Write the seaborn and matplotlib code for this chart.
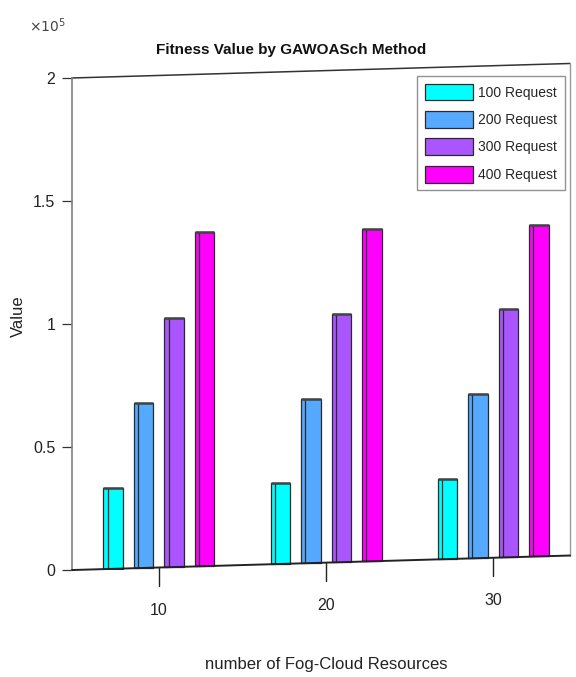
import numpy as np
import pandas as pd
import matplotlib
matplotlib.use("Agg")
import matplotlib.pyplot as plt
import seaborn as sns

# values in units of 1e5
resources = ["10", "20", "30"]
requests = ["100 Request", "200 Request", "300 Request", "400 Request"]
req100 = [0.329, 0.328, 0.327]
req200 = [0.671, 0.666, 0.668]
req300 = [1.013, 1.010, 1.008]
req400 = [1.357, 1.352, 1.349]
colors = ["#00FFFF", "#55AAFF", "#AA55FF", "#FF00FF"]

df = pd.DataFrame({
    "res": resources * 4,
    "req": np.repeat(requests, 3),
    "val": req100 + req200 + req300 + req400,
})

sns.set_theme(style="white")
plt.rcParams["font.family"] = ["Liberation Sans Narrow", "Liberation Sans", "DejaVu Sans"]

fig = plt.figure(figsize=(5.76, 6.77), dpi=100)
ax = fig.add_axes([0.125, 0.158, 0.8646, 0.7486])

sns.barplot(data=df, x="res", y="val", hue="req", palette=colors, width=0.73,
            gap=0.36, saturation=1, edgecolor="#2a2a2a", linewidth=0.9,
            ax=ax, legend=True)

xmin, xmax = -0.52, 2.46
tilt = 0.0198  # floor rise per category (perspective look)

def floor(x):
    return tilt * (x - xmin)

# lift bars onto the tilted floor and fake the 3D side face
for p in ax.patches:
    if p.get_height() <= 0 or p.get_width() <= 0:
        continue
    x0, w, h = p.get_x(), p.get_width(), p.get_height()
    b = floor(x0 + w / 2)
    p.set_y(b)
    xs = x0 + 0.22 * w
    ax.plot([xs, xs], [b, b + h], color="#2a2a2a", lw=0.9, zorder=3)
    ax.plot([x0, x0 + w], [b + h, b + h], color="#444444",
            lw=1.8, solid_capstyle="butt", zorder=3)

ax.set_xlim(xmin, xmax)
ax.set_ylim(0, 2.06)

for s in ["top", "right", "bottom"]:
    ax.spines[s].set_visible(False)
ax.spines["left"].set_color("#808080")
ax.spines["left"].set_linewidth(1.2)
ax.spines["left"].set_bounds(0, 2)

# tilted floor, top edge and right edge of the box
ax.plot([xmin, xmax], [floor(xmin), floor(xmax)], color="#222222", lw=1.4,
        clip_on=False, zorder=4)
ax.plot([xmin, xmax], [2 + floor(xmin), 2 + floor(xmax)], color="#333333",
        lw=1.1, clip_on=False)
ax.plot([xmax, xmax], [floor(xmax), 2 + floor(xmax)], color="#999999",
        lw=1.0, clip_on=False)

ax.set_yticks([0, 0.5, 1, 1.5, 2])
ax.set_yticklabels(["0", "0.5", "1", "1.5", "2"])
ax.tick_params(axis="y", direction="out", length=7, width=0.9, color="#333333",
               labelsize=11.5, pad=5, left=True, labelcolor="#222222")
ax.tick_params(axis="x", bottom=False, labelbottom=False)
ax.set_xlabel("")
ax.set_ylabel("Value", fontsize=12, labelpad=5, color="#222222")

# tilted x ticks
for i, lab in enumerate(resources):
    b = floor(i)
    ax.plot([i, i], [b, b - 0.075], color="#222222", lw=1.0, clip_on=False)
    ax.text(i, b - 0.175, lab, ha="center", va="center", fontsize=11.5,
            color="#222222")

fig.text(0.566, 0.008, "number of Fog-Cloud Resources", ha="center",
         va="bottom", fontsize=12, color="#222222")
fig.text(0.05, 0.962, r"$\times10^5$", ha="left", va="center", fontsize=10,
         color="#444444")
ax.set_title("Fitness Value by GAWOASch Method", fontsize=11,
             fontweight="bold", pad=7, x=0.44, color="#111111")

leg = ax.legend(loc="upper right", bbox_to_anchor=(0.99, 0.975), frameon=True,
                fancybox=False, edgecolor="#777777", fontsize=10,
                handlelength=3.45, handleheight=1.5, handletextpad=0.4,
                borderpad=0.55, labelspacing=0.75, borderaxespad=0)
leg.get_frame().set_linewidth(1.0)

fig.savefig("out.png", dpi=100, facecolor="white")
